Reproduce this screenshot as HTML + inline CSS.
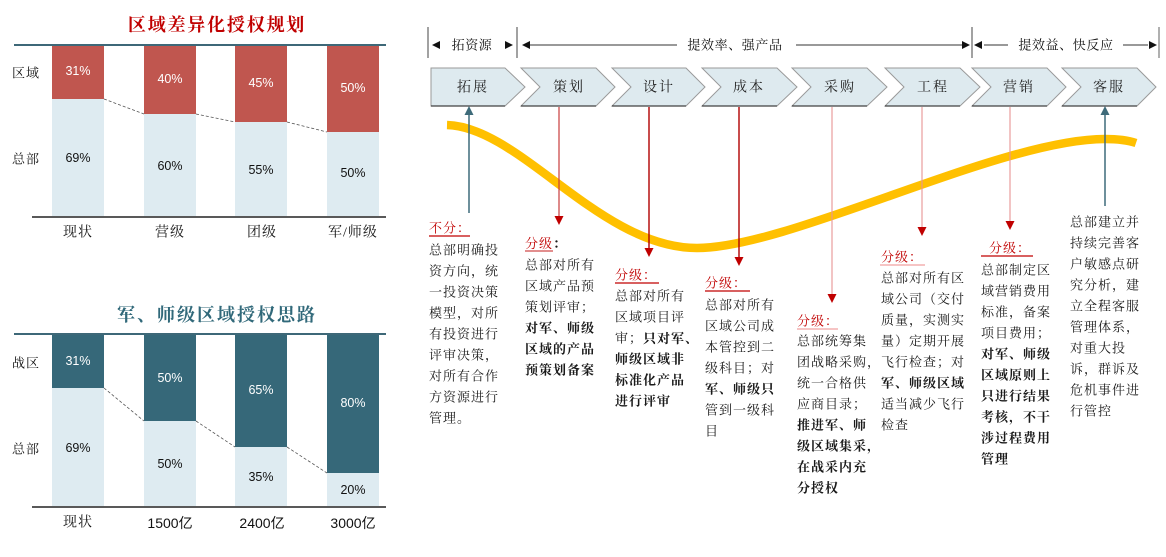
<!DOCTYPE html>
<html>
<head>
<meta charset="utf-8">
<style>
html,body{margin:0;padding:0;background:#fff;}
svg{display:block;}
.cn{font-family:"Liberation Serif","Noto Serif CJK SC",serif;}
.num{font-family:"Liberation Sans","Noto Sans CJK SC",sans-serif;}
.blk{font-family:"Liberation Serif","Noto Serif CJK SC",serif;font-size:13px;letter-spacing:1px;fill:#1a1a1a;}
.b{font-weight:bold;}
.red{fill:#c00000;}
</style>
</head>
<body>
<svg width="1166" height="557" viewBox="0 0 1166 557" xmlns="http://www.w3.org/2000/svg">
<!-- ===== Chart 1 ===== -->
<text x="217" y="25" text-anchor="middle" dominant-baseline="central" class="cn" font-size="18" font-weight="bold" letter-spacing="1.8" fill="#c00000">区域差异化授权规划</text>
<line x1="14" y1="45" x2="386" y2="45" stroke="#3e6878" stroke-width="2"/>
<!-- bars -->
<rect x="52" y="46" width="52" height="53" fill="#c0564f"/>
<rect x="52" y="99" width="52" height="117" fill="#deebf1"/>
<rect x="144" y="46" width="52" height="68" fill="#c0564f"/>
<rect x="144" y="114" width="52" height="102" fill="#deebf1"/>
<rect x="235" y="46" width="52" height="76" fill="#c0564f"/>
<rect x="235" y="122" width="52" height="94" fill="#deebf1"/>
<rect x="327" y="46" width="52" height="86" fill="#c0564f"/>
<rect x="327" y="132" width="52" height="84" fill="#deebf1"/>
<g stroke="#555" stroke-width="0.8" stroke-dasharray="3,2">
<line x1="104" y1="99" x2="144" y2="114"/>
<line x1="196" y1="114" x2="235" y2="122"/>
<line x1="287" y1="122" x2="327" y2="132"/>
</g>
<line x1="32" y1="217" x2="386" y2="217" stroke="#595959" stroke-width="2"/>
<g class="num" font-size="12.5" text-anchor="middle" dominant-baseline="central">
<text x="78" y="71" fill="#fff">31%</text>
<text x="170" y="79" fill="#fff">40%</text>
<text x="261" y="83" fill="#fff">45%</text>
<text x="353" y="88" fill="#fff">50%</text>
<text x="78" y="158" fill="#111">69%</text>
<text x="170" y="166" fill="#111">60%</text>
<text x="261" y="170" fill="#111">55%</text>
<text x="353" y="173" fill="#111">50%</text>
</g>
<g class="cn" font-size="13" dominant-baseline="central" fill="#111" letter-spacing="1">
<text x="12" y="73">区域</text>
<text x="12" y="159">总部</text>
</g>
<g class="cn" font-size="14" text-anchor="middle" dominant-baseline="central" fill="#111" letter-spacing="1">
<text x="78" y="233">现状</text>
<text x="170" y="233">营级</text>
<text x="262" y="233">团级</text>
<text x="353" y="233">军/师级</text>
</g>

<!-- ===== Chart 2 ===== -->
<text x="217" y="315" text-anchor="middle" dominant-baseline="central" class="cn" font-size="18" font-weight="bold" letter-spacing="2" fill="#31697a">军、师级区域授权思路</text>
<line x1="14" y1="334" x2="386" y2="334" stroke="#3e6878" stroke-width="2"/>
<rect x="52" y="335" width="52" height="53" fill="#366879"/>
<rect x="52" y="388" width="52" height="118" fill="#deebf1"/>
<rect x="144" y="335" width="52" height="86" fill="#366879"/>
<rect x="144" y="421" width="52" height="85" fill="#deebf1"/>
<rect x="235" y="335" width="52" height="112" fill="#366879"/>
<rect x="235" y="447" width="52" height="59" fill="#deebf1"/>
<rect x="327" y="335" width="52" height="138" fill="#366879"/>
<rect x="327" y="473" width="52" height="33" fill="#deebf1"/>
<g stroke="#555" stroke-width="0.8" stroke-dasharray="3,2">
<line x1="104" y1="388" x2="144" y2="421"/>
<line x1="196" y1="421" x2="235" y2="447"/>
<line x1="287" y1="447" x2="327" y2="473"/>
</g>
<line x1="32" y1="507" x2="386" y2="507" stroke="#595959" stroke-width="2"/>
<g class="num" font-size="12.5" text-anchor="middle" dominant-baseline="central">
<text x="78" y="361" fill="#fff">31%</text>
<text x="170" y="378" fill="#fff">50%</text>
<text x="261" y="390" fill="#fff">65%</text>
<text x="353" y="403" fill="#fff">80%</text>
<text x="78" y="448" fill="#111">69%</text>
<text x="170" y="464" fill="#111">50%</text>
<text x="261" y="477" fill="#111">35%</text>
<text x="353" y="490" fill="#111">20%</text>
</g>
<g class="cn" font-size="13" dominant-baseline="central" fill="#111" letter-spacing="1">
<text x="12" y="363">战区</text>
<text x="12" y="449">总部</text>
</g>
<g font-size="14" text-anchor="middle" dominant-baseline="central" fill="#111">
<text x="78" y="523" class="cn" letter-spacing="1">现状</text>
<text x="170" y="523" class="num">1500亿</text>
<text x="262" y="523" class="num">2400亿</text>
<text x="353" y="523" class="num">3000亿</text>
</g>

<!-- ===== Header ===== -->
<g stroke="#444" stroke-width="1">
<line x1="428" y1="27" x2="428" y2="58"/>
<line x1="517" y1="27" x2="517" y2="58"/>
<line x1="972" y1="27" x2="972" y2="58"/>
</g>
<line x1="1159" y1="27" x2="1159" y2="58" stroke="#b0b0b0" stroke-width="2"/>
<g stroke="#333" stroke-width="1">
<line x1="530" y1="45" x2="677" y2="45"/>
<line x1="796" y1="45" x2="962" y2="45"/>
<line x1="984" y1="45" x2="1008" y2="45"/>
<line x1="1123" y1="45" x2="1148" y2="45"/>
</g>
<g fill="#111">
<polygon points="432,45 440,41 440,49"/>
<polygon points="513,45 505,41 505,49"/>
<polygon points="522,45 530,41 530,49"/>
<polygon points="970,45 962,41 962,49"/>
<polygon points="974,45 982,41 982,49"/>
<polygon points="1157,45 1149,41 1149,49"/>
</g>
<g class="cn" font-size="13" text-anchor="middle" dominant-baseline="central" fill="#111" letter-spacing="0.6">
<text x="472" y="45">拓资源</text>
<text x="735" y="45">提效率、强产品</text>
<text x="1066" y="45">提效益、快反应</text>
</g>

<!-- ===== Chevrons ===== -->
<g stroke="#9a9a9a" stroke-width="1" fill="#deeaef">
<polygon points="431,68 505,68 525,87 505,106 431,106"/>
<polygon points="521,68 596,68 615,87 596,106 521,106 540,87"/>
<polygon points="612,68 686,68 705,87 686,106 612,106 631,87"/>
<polygon points="702,68 777,68 797,87 777,106 702,106 721,87"/>
<polygon points="792,68 867,68 887,87 867,106 792,106 811,87"/>
<polygon points="885,68 960,68 980,87 960,106 885,106 904,87"/>
<polygon points="972,68 1047,68 1066,87 1047,106 972,106 991,87"/>
<polygon points="1062,68 1137,68 1156,87 1137,106 1062,106 1081,87"/>
</g>
<g stroke="#404040" stroke-width="1.2">
<line x1="431" y1="106" x2="505" y2="106"/>
<line x1="521" y1="106" x2="596" y2="106"/>
<line x1="612" y1="106" x2="686" y2="106"/>
<line x1="702" y1="106" x2="777" y2="106"/>
<line x1="792" y1="106" x2="867" y2="106"/>
<line x1="885" y1="106" x2="960" y2="106"/>
<line x1="972" y1="106" x2="1047" y2="106"/>
<line x1="1062" y1="106" x2="1137" y2="106"/>
</g>
<g class="cn" font-size="14" text-anchor="middle" dominant-baseline="central" fill="#222" letter-spacing="2">
<text x="473" y="88">拓展</text>
<text x="569" y="88">策划</text>
<text x="659" y="88">设计</text>
<text x="749" y="88">成本</text>
<text x="840" y="88">采购</text>
<text x="933" y="88">工程</text>
<text x="1019" y="88">营销</text>
<text x="1109" y="88">客服</text>
</g>

<!-- ===== Curve ===== -->
<path d="M447,125 C520,127 600,248 697,248 C790,248 1000,139 1105,139 C1120,139 1130,141 1136,143" fill="none" stroke="#ffc000" stroke-width="8.5"/>

<!-- ===== Vertical connectors ===== -->
<g stroke="#3e6b7a" stroke-width="1.5">
<line x1="469" y1="113" x2="469" y2="213"/>
<line x1="1105" y1="113" x2="1105" y2="206"/>
</g>
<g fill="#3e6b7a">
<polygon points="469,106 464.5,115 473.5,115"/>
<polygon points="1105,106 1100.5,115 1109.5,115"/>
</g>
<line x1="559" y1="107" x2="559" y2="218" stroke="#c83c3c" stroke-width="1.2"/>
<line x1="649" y1="107" x2="649" y2="250" stroke="#b00000" stroke-width="1.4"/>
<line x1="739" y1="107" x2="739" y2="259" stroke="#b00000" stroke-width="1.4"/>
<line x1="832" y1="107" x2="832" y2="296" stroke="#e89494" stroke-width="1.1"/>
<line x1="922" y1="107" x2="922" y2="229" stroke="#e89494" stroke-width="1.1"/>
<line x1="1010" y1="107" x2="1010" y2="223" stroke="#e89494" stroke-width="1.1"/>
<g fill="#c00000">
<polygon points="559,225 554.5,216 563.5,216"/>
<polygon points="649,257 644.5,248 653.5,248"/>
<polygon points="739,266 734.5,257 743.5,257"/>
<polygon points="832,303 827.5,294 836.5,294"/>
<polygon points="922,236 917.5,227 926.5,227"/>
<polygon points="1010,230 1005.5,221 1014.5,221"/>
</g>

<!-- ===== Text blocks ===== -->
<g class="blk" dominant-baseline="central">
<!-- Block 1 -->
<text x="429" y="228" class="red">不分：</text>
<text x="429" y="250">总部明确投</text>
<text x="429" y="271">资方向，统</text>
<text x="429" y="292">一投资决策</text>
<text x="429" y="313">模型，对所</text>
<text x="429" y="334">有投资进行</text>
<text x="429" y="355">评审决策，</text>
<text x="429" y="376">对所有合作</text>
<text x="429" y="397">方资源进行</text>
<text x="429" y="418">管理。</text>

<!-- Block 2 -->
<text x="525" y="243"><tspan class="red">分级</tspan><tspan class="b">：</tspan></text>
<text x="525" y="265">总部对所有</text>
<text x="525" y="286">区域产品预</text>
<text x="525" y="307">策划评审；</text>
<text x="525" y="328" class="b">对军、师级</text>
<text x="525" y="349" class="b">区域的产品</text>
<text x="525" y="370" class="b">预策划备案</text>

<!-- Block 3 -->
<text x="615" y="275" class="red">分级：</text>
<text x="615" y="296">总部对所有</text>
<text x="615" y="317">区域项目评</text>
<text x="615" y="338">审；<tspan class="b">只对军、</tspan></text>
<text x="615" y="359" class="b">师级区域非</text>
<text x="615" y="380" class="b">标准化产品</text>
<text x="615" y="401" class="b">进行评审</text>

<!-- Block 4 -->
<text x="705" y="283" class="red">分级：</text>
<text x="705" y="305">总部对所有</text>
<text x="705" y="326">区域公司成</text>
<text x="705" y="347">本管控到二</text>
<text x="705" y="368">级科目；对</text>
<text x="705" y="389" class="b">军、师级只</text>
<text x="705" y="410">管到一级科</text>
<text x="705" y="431">目</text>

<!-- Block 5 -->
<text x="797" y="321" class="red">分级：</text>
<text x="797" y="341">总部统筹集</text>
<text x="797" y="362">团战略采购，</text>
<text x="797" y="383">统一合格供</text>
<text x="797" y="404">应商目录；</text>
<text x="797" y="425" class="b">推进军、师</text>
<text x="797" y="446" class="b">级区域集采，</text>
<text x="797" y="467" class="b">在战采内充</text>
<text x="797" y="488" class="b">分授权</text>

<!-- Block 6 -->
<text x="881" y="257" class="red">分级：</text>
<text x="881" y="278">总部对所有区</text>
<text x="881" y="299">域公司（交付</text>
<text x="881" y="320">质量，实测实</text>
<text x="881" y="341">量）定期开展</text>
<text x="881" y="362">飞行检查；对</text>
<text x="881" y="383" class="b">军、师级区域</text>
<text x="881" y="404">适当减少飞行</text>
<text x="881" y="425">检查</text>

<!-- Block 7 -->
<text x="989" y="248" class="red">分级：</text>
<text x="981" y="270">总部制定区</text>
<text x="981" y="291">域营销费用</text>
<text x="981" y="312">标准，备案</text>
<text x="981" y="333">项目费用；</text>
<text x="981" y="354" class="b">对军、师级</text>
<text x="981" y="375" class="b">区域原则上</text>
<text x="981" y="396" class="b">只进行结果</text>
<text x="981" y="417" class="b">考核，不干</text>
<text x="981" y="438" class="b">涉过程费用</text>
<text x="981" y="459" class="b">管理</text>

<!-- Block 8 -->
<text x="1070" y="222">总部建立并</text>
<text x="1070" y="243">持续完善客</text>
<text x="1070" y="264">户敏感点研</text>
<text x="1070" y="285">究分析，建</text>
<text x="1070" y="306">立全程客服</text>
<text x="1070" y="327">管理体系，</text>
<text x="1070" y="348">对重大投</text>
<text x="1070" y="369">诉，群诉及</text>
<text x="1070" y="390">危机事件进</text>
<text x="1070" y="411">行管控</text>
</g>

<!-- underlines -->
<g stroke-width="1.2">
<line x1="429" y1="236" x2="470" y2="236" stroke="#c00000"/>
<line x1="525" y1="251" x2="553" y2="251" stroke="#d04a4a"/>
<line x1="615" y1="283" x2="659" y2="283" stroke="#c00000"/>
<line x1="705" y1="291" x2="750" y2="291" stroke="#c00000"/>
<line x1="797" y1="329" x2="838" y2="329" stroke="#f0a0a0"/>
<line x1="880" y1="265" x2="925" y2="265" stroke="#f0a0a0"/>
<line x1="981" y1="256" x2="1033" y2="256" stroke="#c00000"/>
</g>
</svg>
</body>
</html>
